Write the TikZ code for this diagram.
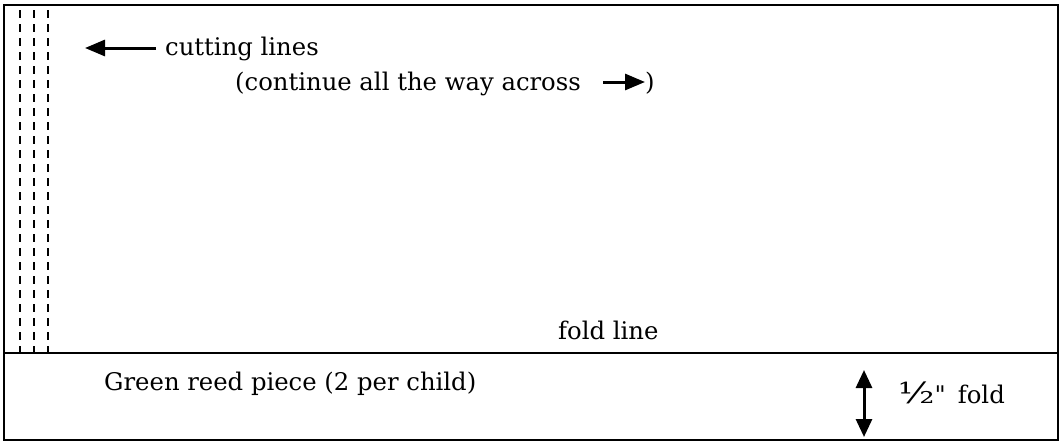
\documentclass[tikz,border=0pt]{standalone}
\usepackage{fontspec}
\usepackage{graphicx}
\setmainfont{DejaVu Serif}[Ligatures=TeXOff]
\usetikzlibrary{arrows.meta}
\begin{document}
\begin{tikzpicture}[x=1pt,y=-1pt,
  frame/.style={line width=2pt},
  cutline/.style={line width=1.8pt,dash pattern=on 8pt off 6pt},
  lbl/.style={font=\fontsize{24.3}{28}\selectfont,inner sep=0pt,anchor=base west},
  arr/.style={line width=3pt,-{Triangle[length=20pt,width=16pt]}},
  darr/.style={line width=3pt,{Triangle[length=18pt,width=16pt]}-{Triangle[length=18pt,width=16pt]}}]
\useasboundingbox (0,0) rectangle (1061,445);
\coordinate (tl) at (4,5);
\coordinate (br) at (1058,440);
\draw[frame] (tl) rectangle (br);
\coordinate (fl) at (4,353);
\coordinate (fr) at (1058,353);
\draw[frame] (fl) -- (fr);
\foreach \x/\n in {20/a,34/b,48/c}{
  \coordinate (c\n t) at (\x,10);
  \coordinate (c\n b) at (\x,352);
  \draw[cutline] (c\n t) -- (c\n b);
}
\node[lbl] (cut) at (165,55) {cutting lines};
\coordinate (cs) at (156,48);
\coordinate (cutarr) at (85,48);
\draw[arr] (cs) -- (cutarr);
\node[lbl] (cont) at (235,90) {(continue all the way across};
\node[lbl] (paren) at (645,90) {)};
\coordinate (ca1) at (603,82);
\coordinate (ca2) at (645,82);
\draw[arr] (ca1) -- (ca2);
\node[lbl] (fold) at (558,339) {fold line};
\node[lbl] (green) at (104,390) {Green reed piece (2 per child)};
\coordinate (h1) at (864,370);
\coordinate (h2) at (864,437);
\draw[darr] (h1) -- (h2);
\node[lbl] (half) at (898,403) {\scalebox{1.55}[1.2]{½}"\hspace{12pt}fold};
\end{tikzpicture}
\end{document}
